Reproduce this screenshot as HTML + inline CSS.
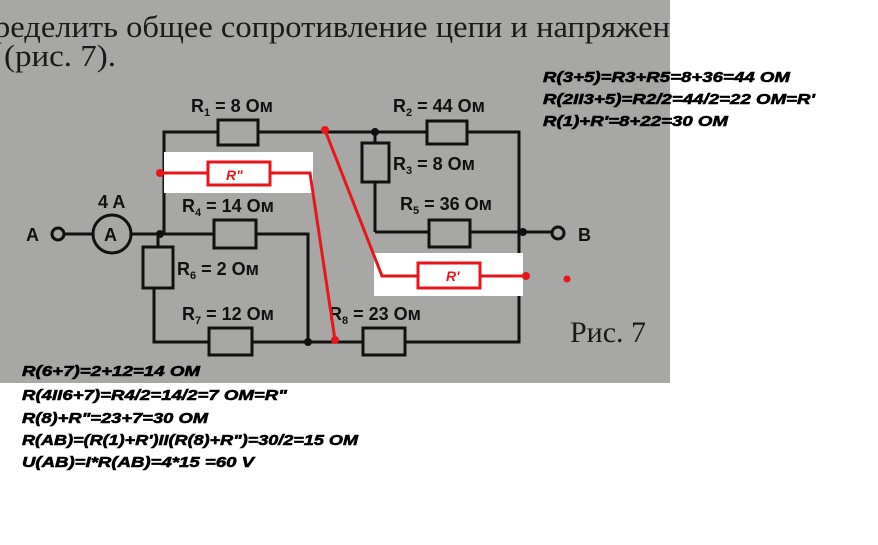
<!DOCTYPE html>
<html><head><meta charset="utf-8"><style>
html,body{margin:0;padding:0;background:#fff;}
svg{display:block;}
.t{font-family:"Liberation Sans",sans-serif;font-weight:bold;font-style:italic;font-size:15px;fill:#000;stroke:#000;stroke-width:0.6px;}
.c{font-family:"Liberation Sans",sans-serif;font-weight:bold;font-size:18px;fill:#111;}
.s{font-family:"Liberation Sans",sans-serif;font-weight:bold;font-size:11px;fill:#111;}
.h{font-family:"Liberation Serif","DejaVu Serif",serif;font-size:31px;fill:#1a1a1a;}
</style></head><body>
<svg width="878" height="545" viewBox="0 0 878 545" xmlns="http://www.w3.org/2000/svg">
<rect x="0" y="0" width="670" height="383" fill="#a7a7a5"/>
<text class="h" x="-6" y="37" textLength="676" lengthAdjust="spacingAndGlyphs">ределить общее сопротивление цепи и напряжен</text>
<text class="h" x="4" y="66" textLength="112" lengthAdjust="spacingAndGlyphs">(рис. 7).</text>
<g stroke="#111" stroke-width="3" fill="none">
<polyline points="164,234 164,132 519,132 519,342 154,342 154,288"/>
<line x1="375" y1="132" x2="375" y2="232"/>
<line x1="375" y1="232" x2="523" y2="232"/>
<line x1="64" y1="234" x2="164" y2="234"/>
<line x1="523" y1="232" x2="552" y2="232"/>
<polyline points="160,234 308,234 308,342"/>
<line x1="158" y1="234" x2="158" y2="248"/>
<rect x="218" y="120" width="40" height="25" fill="#a7a7a5"/>
<rect x="427" y="121" width="40" height="23" fill="#a7a7a5"/>
<rect x="362" y="143" width="27" height="39" fill="#a7a7a5"/>
<rect x="429" y="220" width="41" height="27" fill="#a7a7a5"/>
<rect x="214" y="220" width="42" height="28" fill="#a7a7a5"/>
<rect x="143" y="247" width="30" height="41" fill="#a7a7a5"/>
<rect x="209" y="328" width="43" height="27" fill="#a7a7a5"/>
<rect x="363" y="328" width="42" height="27" fill="#a7a7a5"/>
<circle cx="112" cy="234" r="19" fill="#a7a7a5"/>
<circle cx="58" cy="234" r="6" fill="#a7a7a5"/>
<circle cx="558" cy="233" r="6" fill="#a7a7a5"/>
</g>
<g fill="#111">
<circle cx="375" cy="132" r="4"/><circle cx="160" cy="234" r="4"/><circle cx="523" cy="232" r="4"/><circle cx="308" cy="342" r="4"/>
</g>
<text class="c" x="104" y="241">A</text>
<text class="c" x="26" y="241">A</text>
<text class="c" x="578" y="241">B</text>
<text class="c" x="98" y="208">4 A</text>
<text class="c" x="191" y="112">R<tspan class="s" dy="4">1</tspan><tspan dy="-4"> = 8 Ом</tspan></text>
<text class="c" x="393" y="112">R<tspan class="s" dy="4">2</tspan><tspan dy="-4"> = 44 Ом</tspan></text>
<text class="c" x="393" y="170">R<tspan class="s" dy="4">3</tspan><tspan dy="-4"> = 8 Ом</tspan></text>
<text class="c" x="400" y="210">R<tspan class="s" dy="4">5</tspan><tspan dy="-4"> = 36 Ом</tspan></text>
<text class="c" x="182" y="212">R<tspan class="s" dy="4">4</tspan><tspan dy="-4"> = 14 Ом</tspan></text>
<text class="c" x="177" y="275">R<tspan class="s" dy="4">6</tspan><tspan dy="-4"> = 2 Ом</tspan></text>
<text class="c" x="182" y="320">R<tspan class="s" dy="4">7</tspan><tspan dy="-4"> = 12 Ом</tspan></text>
<text class="c" x="329" y="320">R<tspan class="s" dy="4">8</tspan><tspan dy="-4"> = 23 Ом</tspan></text>
<text class="h" x="570" y="342" style="font-size:30px">Рис. 7</text>
<rect x="164" y="152" width="149" height="41" fill="#fff"/>
<rect x="374" y="253" width="149" height="43" fill="#fff"/>
<g stroke="#e8161b" stroke-width="3" fill="none">
<rect x="208" y="162" width="62" height="23"/>
<line x1="160" y1="173" x2="208" y2="173"/>
<polyline points="270,173 310,173 335,340"/>
<polyline points="325,130 382,276 418,276"/>
<rect x="418" y="263" width="62" height="25"/>
<line x1="480" y1="276" x2="526" y2="276"/>
</g>
<g fill="#e8161b">
<circle cx="160" cy="173" r="4"/><circle cx="325" cy="130" r="4"/><circle cx="335" cy="340" r="4"/><circle cx="526" cy="276" r="4"/><circle cx="567" cy="279" r="3.5"/>
<text x="226" y="180" style="font-family:'Liberation Sans',sans-serif;font-weight:bold;font-style:italic;font-size:14px">R"</text>
<text x="446" y="281" style="font-family:'Liberation Sans',sans-serif;font-weight:bold;font-style:italic;font-size:14px">R'</text>
</g>
<text class="t" x="543" y="82" textLength="247" lengthAdjust="spacingAndGlyphs">R(3+5)=R3+R5=8+36=44 OM</text>
<text class="t" x="543" y="104" textLength="272" lengthAdjust="spacingAndGlyphs">R(2II3+5)=R2/2=44/2=22 OM=R'</text>
<text class="t" x="543" y="126" textLength="185" lengthAdjust="spacingAndGlyphs">R(1)+R'=8+22=30 OM</text>
<text class="t" x="22" y="376" textLength="178" lengthAdjust="spacingAndGlyphs">R(6+7)=2+12=14 OM</text>
<text class="t" x="22" y="400" textLength="265" lengthAdjust="spacingAndGlyphs">R(4II6+7)=R4/2=14/2=7 OM=R"</text>
<text class="t" x="22" y="423" textLength="186" lengthAdjust="spacingAndGlyphs">R(8)+R"=23+7=30 OM</text>
<text class="t" x="22" y="445" textLength="336" lengthAdjust="spacingAndGlyphs">R(AB)=(R(1)+R')II(R(8)+R")=30/2=15 OM</text>
<text class="t" x="22" y="467" textLength="232" lengthAdjust="spacingAndGlyphs">U(AB)=I*R(AB)=4*15 =60 V</text>
</svg>
</body></html>
